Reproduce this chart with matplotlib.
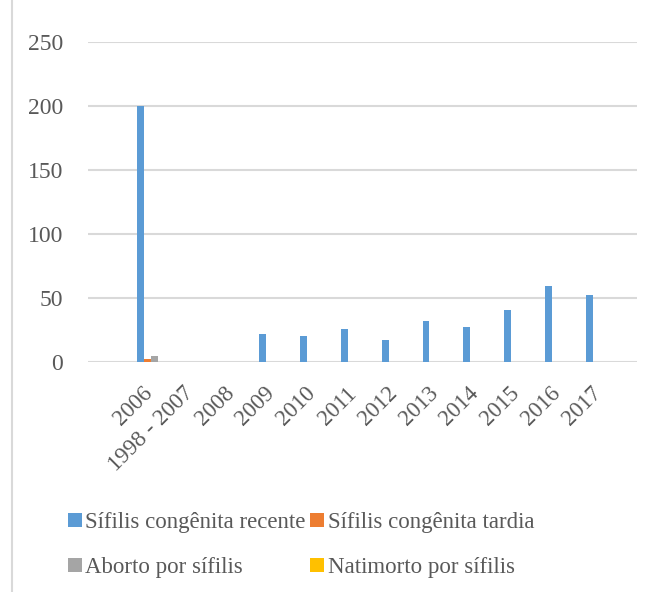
import matplotlib.pyplot as plt
import matplotlib.transforms as mtransforms
from matplotlib.patches import Rectangle
import numpy as np

categories = ['2006', '1998 - 2007', '2008', '2009', '2010', '2011', '2012',
              '2013', '2014', '2015', '2016', '2017']
recente = [200, 0, 0, 22, 20, 26, 17, 32, 27, 41, 59, 52]
tardia = [2, 0, 0, 0, 0, 0, 0, 0, 0, 0, 0, 0]
aborto = [5, 0, 0, 0, 0, 0, 0, 0, 0, 0, 0, 0]
natimorto = [0, 0, 0, 0, 0, 0, 0, 0, 0, 0, 0, 0]

series = [
    ('Sífilis congênita recente', recente, '#5B9BD5'),
    ('Sífilis congênita tardia', tardia, '#ED7D31'),
    ('Aborto por sífilis', aborto, '#A5A5A5'),
    ('Natimorto por sífilis', natimorto, '#FFC000'),
]

TEXT = '#595959'
GRID = '#D9D9D9'
plt.rcParams['font.family'] = ['Liberation Serif', 'DejaVu Serif']

fig = plt.figure(figsize=(6.61, 5.92), dpi=100)
ax = fig.add_axes([88 / 661, 230 / 592, 548.7 / 661, 320 / 592])

# chart area border (only the left edge is inside the frame)
fig.patches.append(Rectangle((11.5 / 661, -0.1), 2, 1.2, transform=fig.transFigure,
                             facecolor='white', edgecolor=GRID, linewidth=1.5, zorder=-1))

x = np.arange(len(categories))
w = 0.17
bars = []
for i, (name, vals, color) in enumerate(series):
    bars.append(ax.bar(x + (i - 1.5) * w, vals, w, color=color, label=name, zorder=3))

ax.set_ylim(0, 250)
ax.set_xlim(-1.54, 11.91)
ax.set_yticks(range(0, 251, 50))
ax.yaxis.grid(True, color=GRID, linewidth=1.5, zorder=0)
for s in ax.spines.values():
    s.set_visible(False)
ax.tick_params(axis='both', length=0, colors=TEXT, labelsize=17)
ax.tick_params(axis='y', pad=18)
ax.set_xticks(x)
ax.set_xticklabels(categories, rotation=45, ha='right', fontsize=16.5)
ax.tick_params(axis='x', pad=15)
offset = mtransforms.ScaledTranslation(6 / 100, 0, fig.dpi_scale_trans)
for lbl in ax.get_xticklabels():
    lbl.set_transform(lbl.get_transform() + offset)

# legend fills column by column, so order entries to read row by row
order = [0, 2, 1, 3]
fig.legend([bars[i] for i in order], [series[i][0] for i in order],
           loc='upper left', bbox_to_anchor=(59 / 661, 1 - 503 / 592), ncol=2,
           frameon=False, fontsize=16.5, labelcolor=TEXT, handlelength=0.6,
           handleheight=0.6, handletextpad=0.15, columnspacing=0.2,
           labelspacing=1.05, borderaxespad=0)

fig.savefig('out.png', dpi=100)
